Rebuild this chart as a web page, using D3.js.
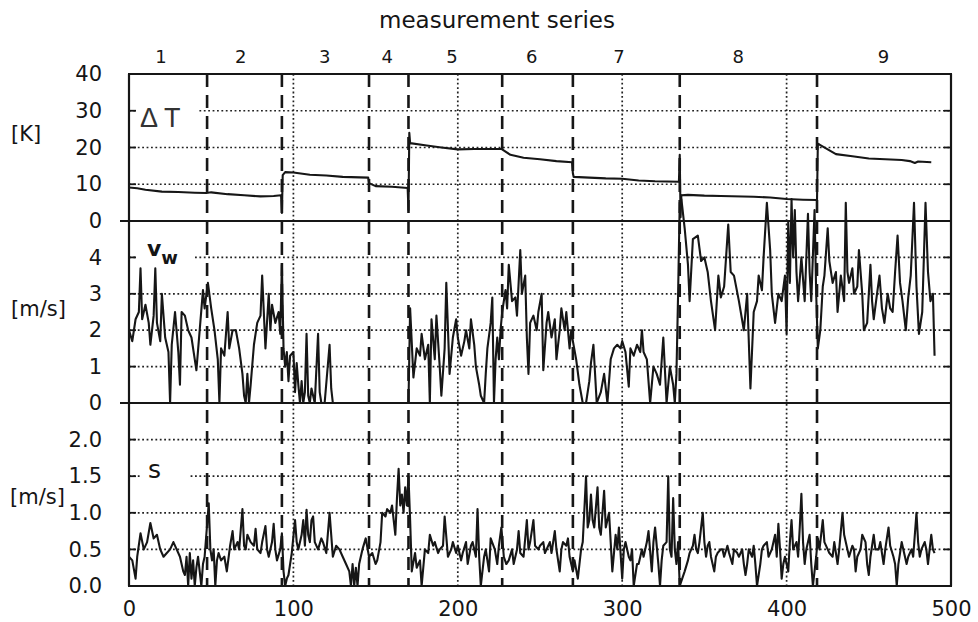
<!DOCTYPE html>
<html>
<head>
<meta charset="utf-8">
<script src="https://cdn.jsdelivr.net/npm/d3@7"></script>
<style>
  body { margin: 0; background: #fff; }
  text { font-family: "DejaVu Sans", Verdana, sans-serif; fill: #151515; }
</style>
</head>
<body>
<div id="chart"></div>
<script>
// series boundaries (dashed) and series label positions, in sample units
const seriesBounds = [47.5, 93, 146, 170, 227, 270, 335, 418.5];
const seriesLabels = ['1', '2', '3', '4', '5', '6', '7', '8', '9'];
const seriesLabelX = [19.5, 68, 119, 157, 196.5, 245, 298, 370.5, 459];

const xTicks = [0, 100, 200, 300, 400, 500];
const dtTicks = [0, 10, 20, 30, 40];
const vwTicks = [0, 1, 2, 3, 4];
const sTicks = [0, 0.5, 1.0, 1.5, 2.0];

// temperature difference [K]
const dtX = [0, 5, 10, 20, 30, 40, 47, 50, 60, 70, 80, 88, 92.5, 93, 93.5, 95, 100, 110, 120, 130, 145.5,
  146, 150, 160, 169.5, 170, 170.5, 171, 180, 190, 200, 210, 226.5, 232, 240, 250, 260, 269.5, 270, 270.5,
  280, 290, 300, 310, 320, 334.5, 335, 335.5, 336, 340, 350, 360, 380, 390, 400, 410, 418.5, 419, 420,
  425, 430, 440, 450, 460, 470, 475, 478, 480, 488];
const dtV = [9.1, 8.9, 8.5, 8.0, 7.9, 7.7, 7.6, 7.8, 7.3, 7.0, 6.7, 6.8, 7.0, 2.2, 12.5, 13.3, 13.2, 12.6, 12.4, 12.0, 11.8,
  10.3, 9.5, 9.3, 9.0, 3.0, 24.0, 21.2, 20.6, 20.0, 19.5, 19.6, 19.6, 18.0, 17.2, 16.8, 16.3, 16.0, 13.0, 12.0,
  11.8, 11.6, 11.5, 11.0, 10.8, 10.7, 18.0, 1.0, 7.0, 7.1, 6.9, 6.8, 6.6, 6.4, 6.0, 5.8, 5.7, 21.0, 20.8,
  19.5, 18.2, 17.6, 17.0, 16.8, 16.6, 16.3, 15.8, 16.2, 16.0];

// wind velocity v_w [m/s]
const vwX = [0, 2, 4, 6, 7, 8, 10, 12, 13, 15, 16, 17, 19, 20, 22, 24, 25, 26, 28, 30, 31, 32, 34, 36, 38, 40,
  41, 43, 45, 46, 48, 50, 52, 54, 55, 56, 58, 60, 61, 63, 65, 67, 69, 70, 71, 72, 73, 74, 76, 78, 80, 81, 83,
  85, 86, 87, 89, 91, 92, 93, 94, 95, 96, 97, 98, 100, 101, 102, 103, 104, 105, 106, 107, 108, 109, 110, 111,
  113, 115, 116, 117, 119, 122, 123, 124, 170, 171, 173, 175, 177, 178, 180, 182, 183, 184, 186, 187, 189,
  190, 192, 193, 195, 197, 199, 200, 202, 204, 205, 207, 208, 210, 211, 213, 214, 216, 217, 218, 220, 221,
  222, 223, 224, 225, 226, 227, 229, 230, 231, 233, 235, 236, 238, 239, 241, 242, 243, 244, 246, 248, 249,
  251, 252, 254, 255, 257, 259, 260, 262, 263, 265, 266, 268, 269, 270, 272, 274, 276, 278, 280, 281, 282.5,
  284.5, 287, 289, 291, 293, 295, 297, 299, 300, 302, 304, 305, 307, 309, 311, 312, 313, 315, 317, 319, 321,
  323, 325, 327, 329, 331, 332, 333, 334, 335, 336, 338, 340, 341, 343, 346, 348, 350, 352, 354, 356.5,
  358.5, 360, 362, 364.5, 366, 368, 371, 374, 376, 378, 380, 382, 383, 385, 386, 388, 390, 391, 393, 395,
  397, 399, 400, 401, 402, 403, 404, 405, 406, 407, 409, 411, 413, 414, 415, 417, 418, 419, 420.5, 422, 423,
  425, 426, 428, 430, 431, 433, 435, 436, 437, 438, 440, 441, 443, 444, 446, 447, 449, 451, 452, 453, 455,
  456.5, 458, 459.5, 461.5, 463, 464.5, 466, 467.5, 469, 470.5, 472.5, 474, 475.5, 477.5, 479, 480.5, 482.5,
  484.5, 486, 487.5, 489, 490];
const vwV = [2.0, 1.7, 2.3, 2.5, 3.7, 2.3, 2.7, 2.2, 1.6, 2.4, 3.7, 2.2, 1.7, 3.0, 1.8, 1.4, 0, 1.6, 2.5, 1.4,
  0.5, 2.5, 2.4, 2.0, 1.8, 1.2, 0.9, 2.0, 3.1, 2.6, 3.3, 2.6, 2.0, 1.2, 0, 1.5, 1.3, 2.5, 1.5, 2.0, 2.0, 1.5,
  0.8, 0.2, 0, 0.8, 0, 0.5, 1.6, 2.2, 2.4, 3.5, 1.5, 3.0, 2.0, 2.7, 2.2, 2.5, 1.9, 3.8, 1.5, 1.0, 1.4, 0.6,
  1.3, 1.4, 0.3, 1.1, 0.5, 0, 0.6, 0, 0.3, 1.9, 0.2, 0, 0.4, 0, 1.9, 0.3, 0, 0, 1.6, 0.4, 0, 0, 2.6, 0.7,
  1.5, 1.3, 1.9, 1.2, 1.6, 0, 2.3, 1.2, 2.4, 1.0, 0.2, 1.5, 3.3, 0.8, 1.8, 2.3, 1.8, 1.3, 1.7, 2.0, 1.5, 2.3,
  1.6, 1.0, 0.5, 0.2, 0, 0.8, 1.5, 2.2, 2.9, 0, 1.2, 1.8, 1.2, 2.0, 2.5, 3.1, 2.6, 3.8, 2.8, 2.9, 2.4, 4.2,
  3.0, 3.5, 1.8, 0.8, 2.2, 2.4, 2.0, 2.5, 3.0, 0.9, 2.2, 2.5, 1.8, 2.3, 1.2, 2.0, 2.6, 2.0, 2.5, 1.5, 2.0,
  1.7, 1.2, 0.5, 0, 0, 0.6, 1.1, 1.6, 0, 0.3, 0.8, 0, 1.2, 1.5, 1.6, 1.5, 1.7, 1.4, 0.45, 1.5, 1.3, 1.6, 1.4,
  2.0, 1.4, 1.2, 0, 1.0, 0.8, 0.5, 1.8, 0, 1.0, 0.5, 0, 0.8, 3.0, 5.5, 5.6, 4.8, 3.8, 2.8, 4.5, 4.6, 3.9,
  4.0, 3.6, 2.8, 2.0, 3.5, 2.9, 3.2, 4.9, 3.6, 3.5, 2.8, 2.0, 3.0, 0.4, 2.5, 2.8, 3.5, 3.1, 4.0, 5.5, 4.2,
  3.0, 2.2, 3.0, 2.8, 3.5, 1.9, 5.0, 3.3, 5.6, 4.0, 5.3, 3.6, 2.8, 4.0, 2.8, 5.2, 3.6, 2.8, 5.3, 3.0, 1.5,
  2.0, 3.2, 3.5, 4.8, 3.9, 3.3, 3.6, 2.5, 3.5, 2.8, 5.5, 3.6, 3.3, 3.7, 3.0, 3.2, 4.2, 3.0, 2.0, 2.2, 3.8,
  2.8, 2.3, 3.0, 3.5, 2.6, 2.2, 3.0, 2.6, 2.5, 3.6, 4.6, 3.3, 2.8, 2.0, 2.9, 3.5, 5.5, 3.2, 1.9, 2.5, 5.5,
  3.6, 2.8, 3.0, 1.3];

// standard deviation s [m/s]
const sX = [0, 2, 4, 5, 7, 9, 11, 13, 15, 17, 19, 21, 23, 25, 27, 29, 31, 33, 34, 35, 36, 37, 38, 39, 40, 41,
  42, 43, 44, 45, 46, 48.5, 49.5, 50.5, 51.5, 52.5, 53.5, 54.5, 56, 58, 59.5, 61.5, 63, 64, 66, 67, 69, 70,
  71, 72, 74, 76, 77, 78, 80, 81, 83, 84, 85, 87, 88, 89, 90, 92, 93, 94, 95, 96, 97, 99, 101, 102, 103, 105,
  106, 107, 108, 109, 110, 111, 112, 113, 115, 117, 118, 120, 122, 124, 126, 128, 130, 132, 134, 135, 136,
  137, 138, 139, 140, 142, 144, 146, 148, 150, 151, 153, 154, 156, 157, 159, 160, 162, 163, 164, 165, 166,
  167, 168, 169, 170, 171, 172, 174, 175, 177, 178, 180, 182, 183, 185, 186, 188, 189, 191, 192, 194, 196,
  197, 199, 200, 202, 203, 205, 206, 208, 209, 211, 212, 213, 214, 216, 217, 219, 220, 222.5, 224, 225,
  226.5, 228, 229.5, 231, 233, 234, 236, 237, 238, 240, 242, 243, 244, 246, 247, 249, 250, 252, 253, 254,
  256, 257, 259, 260, 262, 263, 264, 266, 267, 268, 270, 271, 273, 274, 275, 276, 278, 279, 280, 281, 282,
  283, 285, 286, 287, 289, 290, 292, 293, 294, 296, 297, 298, 300, 301, 302, 304, 305, 306, 307, 309, 310,
  312, 313, 315, 316, 318, 319, 320, 322, 323, 324, 325, 327, 328, 329, 330, 331, 332, 333, 334, 335, 336.5,
  338, 340, 341, 343, 344, 345, 346, 347, 349, 350, 351, 352, 353, 354, 356, 357, 358, 360, 361, 362, 364,
  365, 367, 368, 370, 371, 373, 374, 375, 376, 377, 379, 380, 381, 382, 384, 385, 386, 388, 389, 391, 392,
  393, 394, 395, 396, 397, 398, 399, 400, 401, 402, 403, 404, 406, 407, 408, 409, 410, 411, 412, 414, 415,
  416, 418, 419, 420, 422, 423, 425, 426, 428, 429, 431, 432, 434, 435, 437, 438, 440, 441, 442, 443, 445,
  446, 448, 449, 450, 451, 453, 454, 456, 457, 459, 460, 462, 463, 465, 466, 467, 468, 470, 471, 473, 474,
  476, 477, 479, 480, 481, 482, 484, 485, 486, 487, 488, 489, 490];
const sV = [0.4, 0.35, 0.1, 0.4, 0.72, 0.5, 0.6, 0.86, 0.65, 0.7, 0.5, 0.4, 0.45, 0.5, 0.6, 0.5, 0.4, 0.2,
  0.15, 0.4, 0.0, 0.45, 0.1, 0.35, 0.0, 0.25, 0.4, 0.2, 0.0, 0.3, 0.4, 1.13, 0.5, 0.35, 0.5, 0.0, 0.35, 0.45,
  0.35, 0.4, 0.2, 0.55, 0.75, 0.5, 0.6, 0.5, 1.05, 0.55, 0.5, 0.7, 0.6, 0.55, 0.78, 0.5, 0.45, 0.6, 0.82,
  0.5, 0.4, 0.6, 0.85, 0.5, 0.35, 0.5, 0.72, 0.2, 0.0, 0.1, 0.15, 0.45, 0.9, 0.6, 0.5, 0.7, 0.9, 0.55, 1.04,
  0.7, 0.6, 0.9, 0.95, 0.6, 0.5, 0.65, 0.6, 0.45, 1.0, 0.4, 0.55, 0.5, 0.4, 0.3, 0.2, 0.0, 0.3, 0.0, 0.25,
  0.0, 0.3, 0.5, 0.65, 0.4, 0.45, 0.3, 0.35, 0.6, 1.0, 0.95, 1.05, 1.0, 1.1, 0.7, 1.2, 1.6, 1.1, 1.25, 1.0,
  1.35, 1.1, 1.5, 0.9, 0.2, 0.45, 0.25, 0.35, 0.0, 0.5, 0.45, 0.7, 0.55, 0.6, 0.45, 0.5, 0.55, 0.95, 0.4,
  0.5, 0.6, 0.45, 0.55, 0.35, 0.45, 0.6, 0.3, 0.55, 0.6, 0.4, 1.05, 0.4, 0.0, 0.4, 0.5, 0.2, 0.65, 0.5, 0.3,
  0.55, 0.8, 0.4, 0.3, 0.35, 0.5, 0.3, 0.5, 0.75, 0.45, 0.4, 0.9, 0.5, 0.6, 0.9, 0.55, 0.5, 0.55, 0.6, 0.45,
  0.5, 0.6, 0.45, 0.75, 0.5, 0.2, 0.5, 0.6, 0.55, 0.65, 0.4, 0.2, 0.35, 0.1, 0.3, 0.5, 0.6, 1.5, 0.8, 0.9,
  1.25, 0.9, 0.8, 1.35, 0.8, 0.7, 1.3, 0.8, 1.0, 0.6, 0.2, 0.7, 0.5, 0.8, 0.1, 0.5, 0.6, 0.4, 0.35, 0.5,
  0.0, 0.3, 0.3, 0.5, 0.4, 0.6, 0.75, 0.2, 0.6, 0.8, 0.3, 0.0, 0.35, 0.55, 0.6, 1.5, 0.5, 0.4, 1.2, 0.5,
  0.3, 0.6, 0.0, 0.1, 0.2, 0.35, 0.45, 0.55, 0.7, 0.5, 0.45, 0.6, 1.0, 0.6, 0.4, 0.55, 0.6, 0.4, 0.2, 0.4,
  0.45, 0.5, 0.5, 0.4, 0.55, 0.45, 0.3, 0.5, 0.45, 0.4, 0.5, 0.3, 0.15, 0.3, 0.5, 0.4, 0.55, 0.3, 0.0, 0.3,
  0.5, 0.55, 0.6, 0.4, 0.5, 0.6, 0.7, 0.4, 0.85, 0.5, 0.1, 0.3, 0.4, 0.3, 0.2, 0.6, 0.9, 0.5, 0.6, 0.4, 0.8,
  1.26, 0.6, 0.3, 0.5, 0.7, 0.3, 0.0, 0.4, 0.65, 0.5, 0.9, 0.6, 0.5, 0.45, 0.4, 0.6, 0.3, 0.5, 1.0, 0.7,
  0.5, 0.4, 0.55, 0.5, 0.2, 0.4, 0.5, 0.7, 0.6, 0.3, 0.15, 0.4, 0.7, 0.5, 0.5, 0.6, 0.3, 0.5, 0.8, 0.55,
  0.4, 0.3, 0.0, 0.3, 0.6, 0.5, 0.3, 0.4, 0.5, 0.4, 1.0, 0.6, 0.4, 0.5, 0.6, 0.5, 0.3, 0.5, 0.7, 0.5, 0.45];

const width = 978, height = 622;
const svg = d3.select('#chart').append('svg')
  .attr('width', width).attr('height', height)
  .style('background', '#fff');

const x = d3.scaleLinear().domain([0, 500]).range([129, 951]);
const yT = d3.scaleLinear().domain([0, 40]).range([221, 74]);
const yV = d3.scaleLinear().domain([0, 5]).range([403, 221]);
const yS = d3.scaleLinear().domain([0, 2.5]).range([586, 403]);

const ink = '#161616';
const grid = svg.append('g');

// horizontal dotted grid
const hGrid = [].concat(
  [10, 20, 30].map(yT), [1, 2, 3, 4].map(yV), [0.5, 1.0, 1.5, 2.0].map(yS));
grid.selectAll('.hg').data(hGrid).enter().append('line')
  .attr('x1', x(0)).attr('x2', x(500))
  .attr('y1', d => d).attr('y2', d => d)
  .attr('stroke', '#222').attr('stroke-width', 1.7)
  .attr('stroke-dasharray', '1.8,2.6');

// vertical dotted grid
grid.selectAll('.vg').data([100, 200, 300, 400]).enter().append('line')
  .attr('x1', d => x(d)).attr('x2', d => x(d))
  .attr('y1', yT(40)).attr('y2', yS(0))
  .attr('stroke', '#222').attr('stroke-width', 1.7)
  .attr('stroke-dasharray', '1.8,2.6');

// inner ticks on both sides
grid.selectAll('.tl').data(hGrid).enter().append('line')
  .attr('x1', x(0)).attr('x2', x(0) + 7).attr('y1', d => d).attr('y2', d => d)
  .attr('stroke', ink).attr('stroke-width', 1.8);
grid.selectAll('.tr').data(hGrid).enter().append('line')
  .attr('x1', x(500) - 7).attr('x2', x(500)).attr('y1', d => d).attr('y2', d => d)
  .attr('stroke', ink).attr('stroke-width', 1.8);

// white boxes behind panel labels
const boxes = [[x(0) + 8, 96, 60, 34], [x(0) + 8, 240, 58, 24], [x(0) + 12, 455, 48, 30]];
grid.selectAll('.bx').data(boxes).enter().append('rect')
  .attr('x', d => d[0]).attr('y', d => d[1]).attr('width', d => d[2]).attr('height', d => d[3])
  .attr('fill', '#fff');

// panel labels
svg.append('text').attr('x', 140).attr('y', 127)
  .style('font-family', '"Liberation Sans", Arial, sans-serif')
  .style('font-size', '27px').style('fill', '#333').text('Δ T');
const vw = svg.append('text').attr('x', 147).attr('y', 256)
  .style('font-size', '22px').style('font-weight', 'bold');
vw.append('tspan').text('v');
vw.append('tspan').attr('dy', 8).style('font-size', '18px').text('w');
svg.append('text').attr('x', 148).attr('y', 478)
  .style('font-size', '25px').text('s');

// data lines
const line = (ys, yScale) => d3.line()
  .x(d => x(d))
  .y((d, i) => yScale(ys[i]));

[[dtX, dtV, yT], [vwX, vwV, yV], [sX, sV, yS]].forEach(([xs, ys, sc]) => {
  svg.append('path').attr('d', line(ys, sc)(xs))
    .attr('fill', 'none').attr('stroke', ink).attr('stroke-width', 2.1)
    .attr('stroke-linejoin', 'round');
});

// dashed series boundaries
svg.selectAll('.sb').data(seriesBounds).enter().append('line')
  .attr('x1', d => x(d)).attr('x2', d => x(d))
  .attr('y1', yT(40)).attr('y2', yS(0))
  .attr('stroke', ink).attr('stroke-width', 2.6)
  .attr('stroke-dasharray', '13,8');

// panel frame
const frame = svg.append('g').attr('stroke', ink).attr('stroke-width', 2.2);
frame.append('line').attr('x1', x(0) - 1).attr('x2', x(500) + 1).attr('y1', yT(40)).attr('y2', yT(40));
frame.append('line').attr('x1', x(0) - 9).attr('x2', x(500) + 1).attr('y1', yT(0)).attr('y2', yT(0));
frame.append('line').attr('x1', x(0) - 9).attr('x2', x(500) + 1).attr('y1', yV(0)).attr('y2', yV(0));
frame.append('line').attr('x1', x(0) - 1).attr('x2', x(500) + 1).attr('y1', yS(0)).attr('y2', yS(0));
frame.append('line').attr('x1', x(0)).attr('x2', x(0)).attr('y1', yT(40)).attr('y2', yS(0));
frame.append('line').attr('x1', x(500)).attr('x2', x(500)).attr('y1', yT(40)).attr('y2', yS(0));

// axes (labels only)
function styleAxis(g) {
  g.select('.domain').remove();
  g.selectAll('.tick line').remove();
  g.selectAll('text').style('font-size', '21px')
    .attr('fill', null).style('font-family', '"DejaVu Sans", Verdana, sans-serif');
}
svg.append('g').attr('transform', `translate(${x(0)},0)`)
  .call(d3.axisLeft(yT).tickValues(dtTicks).tickFormat(d3.format('d')).tickPadding(21))
  .call(styleAxis);
svg.append('g').attr('transform', `translate(${x(0)},0)`)
  .call(d3.axisLeft(yV).tickValues(vwTicks).tickFormat(d3.format('d')).tickPadding(21))
  .call(styleAxis);
svg.append('g').attr('transform', `translate(${x(0)},0)`)
  .call(d3.axisLeft(yS).tickValues(sTicks).tickFormat(d3.format('.1f')).tickPadding(21))
  .call(styleAxis);
svg.append('g').attr('transform', `translate(0,${yS(0)})`)
  .call(d3.axisBottom(x).tickValues(xTicks).tickFormat(d3.format('d')).tickPadding(9))
  .call(styleAxis);

// unit labels
const units = [['[K]', 11, 141], ['[m/s]', 11, 316], ['[m/s]', 10, 504]];
svg.selectAll('.unit').data(units).enter().append('text')
  .attr('x', d => d[1]).attr('y', d => d[2])
  .style('font-size', '21px')
  .text(d => d[0]);

// series labels on top
svg.selectAll('.sl').data(seriesLabels).enter().append('text')
  .attr('x', (d, i) => x(seriesLabelX[i])).attr('y', 63)
  .attr('text-anchor', 'middle')
  .style('font-size', '18px')
  .text(d => d);

svg.append('text').attr('x', 497).attr('y', 28)
  .attr('text-anchor', 'middle')
  .style('font-size', '23px')
  .text('measurement series');
</script>
</body>
</html>
